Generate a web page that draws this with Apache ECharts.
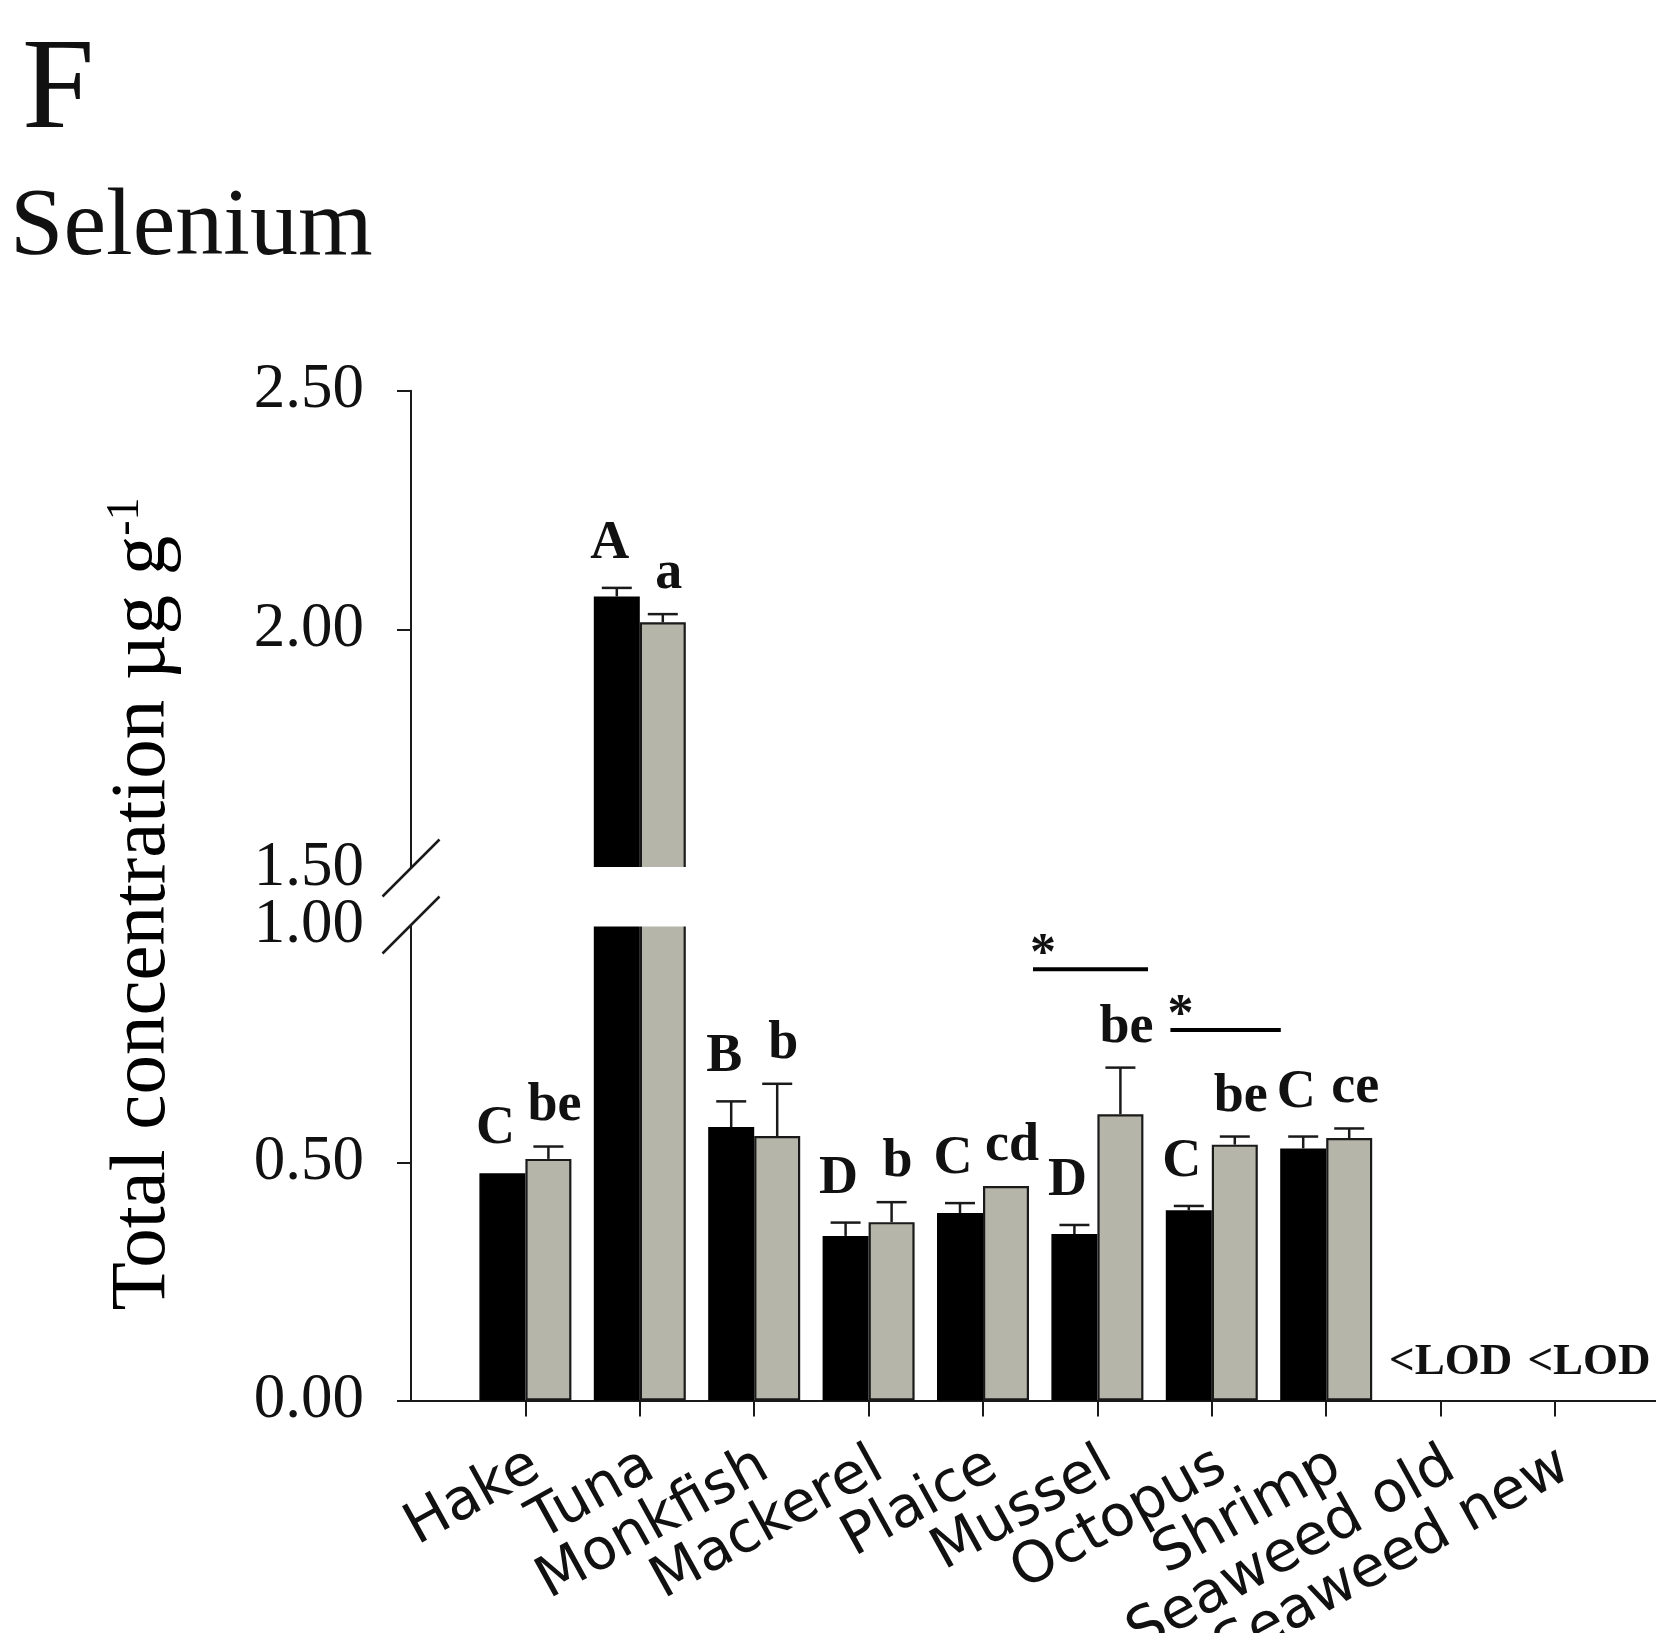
<!DOCTYPE html>
<html>
<head>
<meta charset="utf-8">
<script src="https://cdn.jsdelivr.net/npm/echarts@6/dist/echarts.min.js"></script>
<style>
  html, body { margin: 0; padding: 0; background: #fff; }
  #chart { width: 1656px; height: 1633px; }
</style>
</head>
<body>
<div id="chart"></div>
<script>
// Total selenium, µg g-1: black = first sampling, grey = second sampling
const categories = ['Hake', 'Tuna', 'Monkfish', 'Mackerel', 'Plaice', 'Mussel', 'Octopus', 'Shrimp', 'Seaweed old', 'Seaweed new'];
const oldMean = [0.478, 2.069, 0.575, 0.346, 0.394, 0.350, 0.400, 0.530, null, null];
const oldErr  = [0.000, 0.018, 0.054, 0.028, 0.021, 0.019, 0.009, 0.025, null, null];
const newMean = [0.508, 2.015, 0.556, 0.375, 0.451, 0.602, 0.538, 0.552, null, null];
const newErr  = [0.026, 0.017, 0.110, 0.042, 0.000, 0.098, 0.017, 0.020, null, null];
const oldLetters = ['C', 'A', 'B', 'D', 'C', 'D', 'C', 'C', '', ''];
const newLetters = ['be', 'a', 'b', 'b', 'cd', 'be', 'be', 'ce', '', ''];
const lodLabels  = ['', '', '', '', '', '', '', '', '<LOD', '<LOD'];
const upperTicks = [1.5, 2.0, 2.5];
const lowerTicks = [0, 0.5, 1.0];
const sigCategories = ['Mussel', 'Octopus'];
const sigLevels = [0.907, 0.779];

// Axis slots: an empty slot at the y axis, the ten groups, and one trailing slot
const axisCats = [''].concat(categories, ['']);

const BAR_W = 46;
const INK = '#1a1a1a';
const GREY = '#b5b5aa';
const BREAK_LOW = lowerTicks[lowerTicks.length - 1];
const BREAK_HIGH = upperTicks[0];
const LETTER_FONT = 'bold 54px "Liberation Serif"';
const LOD_FONT = 'bold 45px "Liberation Serif"';
const LOD_SHIFT = [10, 34];

// Error bars and letter annotations, split by the axis segment they belong to
const upperItems = [], lowerItems = [];
let lodCount = 0;
categories.forEach(function (c, i) {
  const idx = i + 1;
  const pairs = [
    { mean: oldMean[i], err: oldErr[i], letter: oldLetters[i], dx: -BAR_W / 2, ldx: -7, gap: 44 },
    { mean: newMean[i], err: newErr[i], letter: newLetters[i], dx: BAR_W / 2, ldx: 6, gap: 40 }
  ];
  pairs.forEach(function (p) {
    if (p.mean == null) return;
    const item = { cat: idx, mean: p.mean, err: p.err, letter: p.letter, dx: p.dx, ldx: p.ldx, gap: p.gap, font: LETTER_FONT };
    (p.mean >= BREAK_HIGH ? upperItems : lowerItems).push(item);
  });
  if (lodLabels[i]) {
    lowerItems.push({ cat: idx, mean: 0, err: 0, letter: lodLabels[i], dx: 0, ldx: LOD_SHIFT[lodCount++] || 0, gap: 38, font: LOD_FONT });
  }
});

function markRenderer(items) {
  return function (params, api) {
    const it = items[params.dataIndex];
    const base = api.coord([it.cat, it.mean]);
    const top = api.coord([it.cat, it.mean + it.err]);
    const x = base[0] + it.dx;
    const children = [];
    if (it.err > 0) {
      children.push({ type: 'line', shape: { x1: x, y1: base[1], x2: x, y2: top[1] }, style: { stroke: INK, lineWidth: 2.5 } });
      children.push({ type: 'line', shape: { x1: x - 15, y1: top[1], x2: x + 15, y2: top[1] }, style: { stroke: INK, lineWidth: 2.5 } });
    }
    if (it.letter) {
      children.push({ type: 'text', x: x + it.ldx, y: top[1] - it.gap,
        style: { text: it.letter, font: it.font, fill: '#111', align: 'center', verticalAlign: 'middle' } });
    }
    return { type: 'group', children: children };
  };
}

const padded = function (arr) { return [null].concat(arr, [null]); };

const yLabel = {
  fontFamily: 'Liberation Serif', fontSize: 63, color: '#111', margin: 47,
  formatter: function (v) { return v.toFixed(2); }
};

const chart = echarts.init(document.getElementById('chart'), null, { renderer: 'canvas' });

chart.setOption({
  animation: false,
  backgroundColor: '#fff',
  title: [
    { text: 'F', left: 22, top: 28, padding: 0,
      textStyle: { fontFamily: 'Liberation Serif', fontSize: 130, fontWeight: 'normal', color: '#111' } },
    { text: 'Selenium', left: 10, top: 181, padding: 0,
      textStyle: { fontFamily: 'Liberation Serif', fontSize: 96, fontWeight: 'normal', color: '#111' } }
  ],
  grid: [
    { left: 411, top: 390.8, width: 1258.4, height: 477.2, outerBoundsMode: 'none' },
    { left: 411, top: 925, width: 1258.4, height: 475.4, outerBoundsMode: 'none' }
  ],
  xAxis: [
    { gridIndex: 0, type: 'category', data: axisCats, boundaryGap: false, show: false },
    { gridIndex: 1, type: 'category', data: axisCats, boundaryGap: false,
      axisLine: { lineStyle: { color: INK, width: 2.2 } },
      axisTick: { length: 16, lineStyle: { color: INK, width: 2 },
        interval: function (index) { return index >= 1 && index <= categories.length; } },
      axisLabel: { interval: 0, rotate: 29, margin: 68, padding: [0, -12, 0, 0],
        fontFamily: 'DejaVu Sans', fontSize: 57, color: '#111' },
      splitLine: { show: false } }
  ],
  yAxis: [
    { gridIndex: 0, type: 'value', min: upperTicks[0], max: upperTicks[upperTicks.length - 1], interval: 0.5,
      splitLine: { show: false },
      axisLine: { show: true, lineStyle: { color: INK, width: 2 } },
      axisTick: { show: true, length: 14, lineStyle: { color: INK, width: 2 }, customValues: upperTicks.slice(1) },
      axisLabel: yLabel },
    { gridIndex: 1, type: 'value', min: lowerTicks[0], max: lowerTicks[lowerTicks.length - 1], interval: 0.5,
      splitLine: { show: false },
      axisLine: { show: true, lineStyle: { color: INK, width: 2 } },
      axisTick: { show: true, length: 14, lineStyle: { color: INK, width: 2 }, customValues: lowerTicks.slice(0, -1) },
      axisLabel: yLabel }
  ],
  series: [
    { type: 'bar', xAxisIndex: 0, yAxisIndex: 0, data: padded(oldMean), barWidth: BAR_W, barGap: '0%', clip: true,
      itemStyle: { color: '#000', borderColor: '#000', borderWidth: 1.5 } },
    { type: 'bar', xAxisIndex: 0, yAxisIndex: 0, data: padded(newMean), barWidth: BAR_W, barGap: '0%', clip: true,
      itemStyle: { color: GREY, borderColor: INK, borderWidth: 2.2 } },
    { type: 'bar', xAxisIndex: 1, yAxisIndex: 1, data: padded(oldMean), barWidth: BAR_W, barGap: '0%', clip: true,
      itemStyle: { color: '#000', borderColor: '#000', borderWidth: 1.5 } },
    { type: 'bar', xAxisIndex: 1, yAxisIndex: 1, data: padded(newMean), barWidth: BAR_W, barGap: '0%', clip: true,
      itemStyle: { color: GREY, borderColor: INK, borderWidth: 2.2 } },
    { type: 'custom', xAxisIndex: 0, yAxisIndex: 0, z: 5,
      data: upperItems.map(function (it) { return [it.cat, it.mean]; }),
      renderItem: markRenderer(upperItems) },
    { type: 'custom', xAxisIndex: 1, yAxisIndex: 1, z: 5,
      data: lowerItems.map(function (it) { return [it.cat, it.mean]; }),
      renderItem: markRenderer(lowerItems) }
  ]
});

// Axis break, significance bars and the y axis title
const pHigh = chart.convertToPixel({ gridIndex: 0 }, [0, BREAK_HIGH]);
const pLow = chart.convertToPixel({ gridIndex: 1 }, [0, BREAK_LOW]);
const axisX = pHigh[0];
const graphics = [
  { type: 'rect', z: 100, shape: { x: axisX + 9, y: pHigh[1] - 1, width: 1656, height: pLow[1] - pHigh[1] + 2.5 },
    style: { fill: '#fff' } }
];
[pHigh, pLow].forEach(function (p) {
  graphics.push({ type: 'line', z: 101, shape: { x1: axisX - 28.5, y1: p[1] + 28.5, x2: axisX + 28.5, y2: p[1] - 28.5 },
    style: { stroke: INK, lineWidth: 2.5 } });
});
const sigSpan = [[-1.4, 1.1], [-0.9, 1.5]];
sigCategories.forEach(function (c, k) {
  const p = chart.convertToPixel({ gridIndex: 1 }, [categories.indexOf(c) + 1, sigLevels[k]]);
  const x1 = p[0] + sigSpan[k][0] * BAR_W, x2 = p[0] + sigSpan[k][1] * BAR_W;
  graphics.push({ type: 'line', z: 101, shape: { x1: x1, y1: p[1], x2: x2, y2: p[1] }, style: { stroke: '#000', lineWidth: 4 } });
  graphics.push({ type: 'text', z: 101, x: x1 + 10, y: p[1] - 14,
    style: { text: '*', font: 'bold 52px "Liberation Serif"', fill: '#111', align: 'center', verticalAlign: 'middle' } });
});
graphics.push({
  type: 'text', z: 101, x: 143, y: 904, rotation: Math.PI / 2,
  style: {
    text: '{m|Total concentration µg g}{s|-1}',
    align: 'center', verticalAlign: 'middle',
    rich: {
      m: { fontFamily: 'Liberation Serif', fontSize: 79, color: '#111', lineHeight: 80 },
      s: { fontFamily: 'Liberation Serif', fontSize: 46, color: '#111', verticalAlign: 'top', lineHeight: 46 }
    }
  }
});
chart.setOption({ graphic: graphics });
</script>
</body>
</html>
